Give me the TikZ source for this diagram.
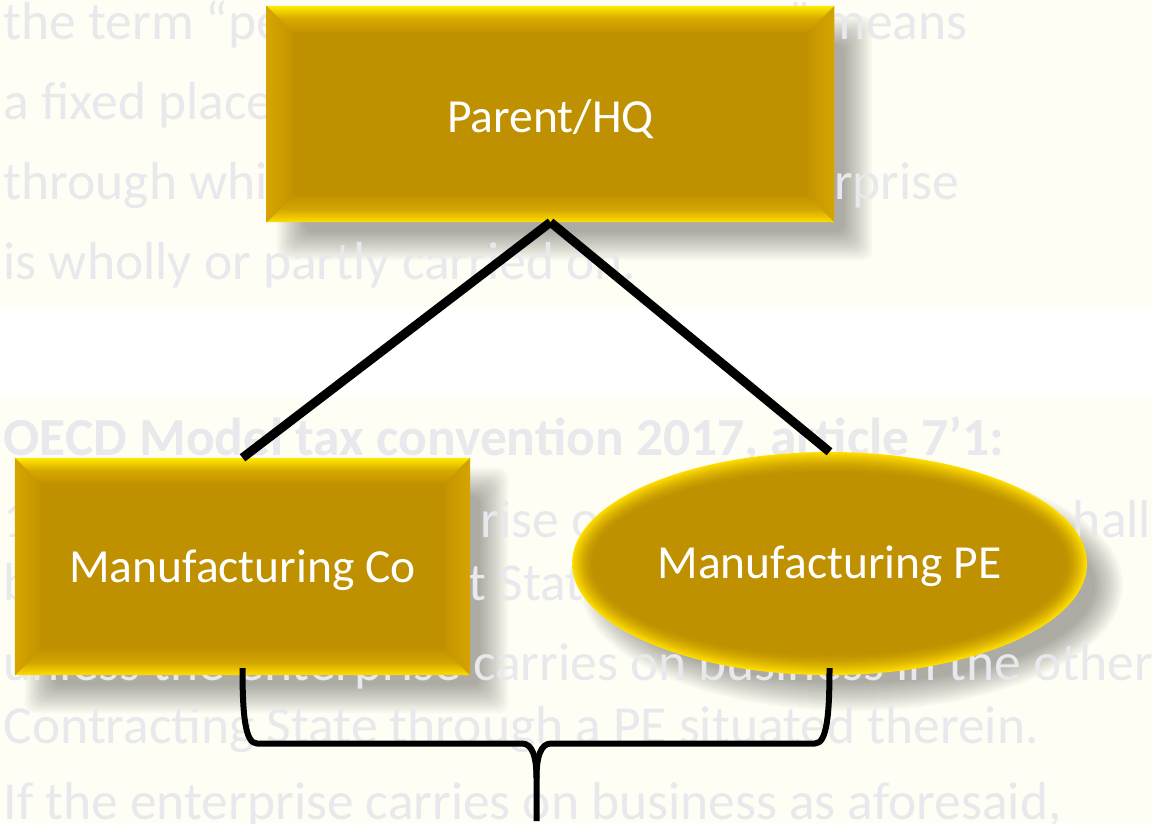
\documentclass[tikz,border=0pt]{standalone}
\usepackage{fontspec}
\setmainfont{Carlito}
\usetikzlibrary{shapes.geometric,calc}

\pgfdeclarelayer{back}
\pgfdeclarelayer{shadow}
\pgfdeclarelayer{ghost}
\pgfdeclarelayer{face}
\pgfsetlayers{back,shadow,ghost,face,main}

\definecolor{pagecream}{HTML}{FEFEF5}
\definecolor{ghost}{HTML}{E8E8ED}
\definecolor{goldface}{HTML}{BF9000}
\definecolor{goldrim}{HTML}{FFDE00}
\definecolor{goldhi}{HTML}{FFEB00}
\definecolor{goldmid}{HTML}{D8A800}
\definecolor{goldinner}{HTML}{C49400}
\definecolor{goldside}{HTML}{D6A500}

\tikzset{
  ghosttext/.style={anchor=base west, inner sep=0pt, text=ghost,
    font=\fontsize{53.5}{64}\selectfont},
  boxlabel/.style={text=white, font=\fontsize{47.5}{57}\selectfont},
  bevelbox/.style={rectangle, inner sep=0pt, fill=goldface, boxlabel},
  softoval/.style={ellipse, inner sep=0pt, boxlabel},
  stem/.style={line width=9pt, line cap=butt, draw=black},
  bracepath/.style={line width=6pt, line cap=butt, line join=round, draw=black},
}

% angled bevel on a rectangular node: #1 node name, #2 bevel width
\newcommand{\bevelrect}[2]{%
  \shade[top color=goldhi, bottom color=goldinner, middle color=goldmid]
    (#1.north west) -- (#1.north east) -- ($(#1.north east)+(-#2,#2)$)
    -- ($(#1.north west)+(#2,#2)$) -- cycle;
  \shade[top color=goldinner, bottom color=goldrim, middle color=goldinner!75!goldrim]
    (#1.south west) -- (#1.south east) -- ($(#1.south east)+(-#2,-#2)$)
    -- ($(#1.south west)+(#2,-#2)$) -- cycle;
  \shade[left color=goldside, right color=goldinner]
    (#1.north west) -- ($(#1.north west)+(#2,#2)$)
    -- ($(#1.south west)+(#2,-#2)$) -- (#1.south west) -- cycle;
  \shade[left color=goldinner, right color=goldside]
    (#1.north east) -- ($(#1.north east)+(-#2,#2)$)
    -- ($(#1.south east)+(-#2,-#2)$) -- (#1.south east) -- cycle;
}

% soft drop shadow behind a rectangular node
\newcommand{\rectshadow}[1]{%
  \foreach \k [evaluate=\k as \lo using 38-2*\k,
               evaluate=\k as \hi using 10+2*\k] in {0,...,14}{%
    \fill[black, opacity=0.025, rounded corners=10pt]
      ($(#1.north west)+(\lo,\lo)$) rectangle ($(#1.south east)+(\hi,\hi)$);
  }}

\begin{document}
\begin{tikzpicture}[x=1pt, y=-1pt]
\useasboundingbox (0,0) rectangle (1153,823);

% page and the two text panels
\begin{pgfonlayer}{back}
  \fill[white] (0,0) rectangle (1153,823);
  \fill[pagecream] (0,0) rectangle (1153,307);
  \fill[pagecream] (0,397) rectangle (1153,823);
\end{pgfonlayer}

% boxes
\node[bevelbox, minimum width=567.5pt, minimum height=216pt,
      text height=36pt, text depth=0pt] (hq) at (550.5,114) {Parent/HQ};
\node[bevelbox, minimum width=455pt, minimum height=217pt,
      text height=32.4pt, text depth=0pt] (mco) at (242.5,566.5) {Manufacturing Co};
\node[softoval, minimum width=515pt, minimum height=223pt,
      text height=29pt, text depth=0pt] (mpe) at (829.5,563.5) {Manufacturing PE};

\bevelrect{hq}{26}
\bevelrect{mco}{25}

% rounded rim of the oval
\begin{pgfonlayer}{face}
  \foreach \i [evaluate=\i as \p using {100*(1-\i/22)^1.6}] in {0,...,21}
    \fill[goldrim!\p!goldface] (mpe.center) ellipse [x radius={257.5-\i}, y radius={111.5-\i}];
  \fill[goldface] (mpe.center) ellipse [x radius=235.5, y radius=89.5];
\end{pgfonlayer}

% drop shadows
\begin{pgfonlayer}{shadow}
  \rectshadow{hq}
  \rectshadow{mco}
  \foreach \k in {0,...,14}
    \fill[black, opacity=0.025] ($(mpe.center)+(22,22)$)
      ellipse [x radius={243.5+2*\k}, y radius={97.5+2*\k}];
\end{pgfonlayer}

% faint text behind the chart (covered stretches kept as blank space)
\begin{pgfonlayer}{ghost}
  \clip (0,0) rectangle (1153,823);
  \node[ghosttext] (ta) at (3.5,39.5)
    {the term “pe\phantom{rmanent establishment}” means};
  \node[ghosttext] (tb) at (3.5,119.5) {a fixed place};
  \node[ghosttext] (tc) at (3.5,199.5)
    {through whi\phantom{ch the business of an ente}rprise};
  \node[ghosttext] (td) at (3.5,279.5) {is wholly or partly carried on.};
  \node[ghosttext, font=\fontsize{53.5}{64}\selectfont\bfseries] (ba) at (3.5,455)
    {OECD Model tax convention 2017, article 7’1:};
  \node[ghosttext] (bb) at (3.5,537)
    {1\phantom{. Profits of an enterp}rise o\phantom{f a Contracting State s}hall};
  \node[ghosttext] (bc) at (3.5,600) {b\phantom{e taxable only in tha}t Stat};
  \node[ghosttext] (bd) at (3.5,680) {unless the enterprise carries on business in the other};
  \node[ghosttext] (be) at (3.5,743) {Contracting State through a PE situated therein.};
  \node[ghosttext] (bf) at (3.5,819) {If the enterprise carries on business as aforesaid,};
\end{pgfonlayer}

% links from the parent
\draw[stem] (hq.south) -- (mco.north);
\draw[stem] (hq.south) -- (mpe.north);

% brace joining the two entities
\coordinate (bl) at ($(mco.south)+(0,-7)$);
\coordinate (br) at ($(mpe.south)+(0,-7)$);
\coordinate (knot) at (536.5,778);
\coordinate (tail) at (536.5,821);
\draw[bracepath] (bl) .. controls +(0,46) and +(-12,0) .. (257,743.5) -- (522,743.5)
  .. controls +(10,0) and +(0,-22) .. (knot) -- (tail);
\draw[bracepath] (br) .. controls +(0,46) and +(12,0) .. (815,743.5) -- (551,743.5)
  .. controls +(-10,0) and +(0,-22) .. (knot);
\end{tikzpicture}
\end{document}
